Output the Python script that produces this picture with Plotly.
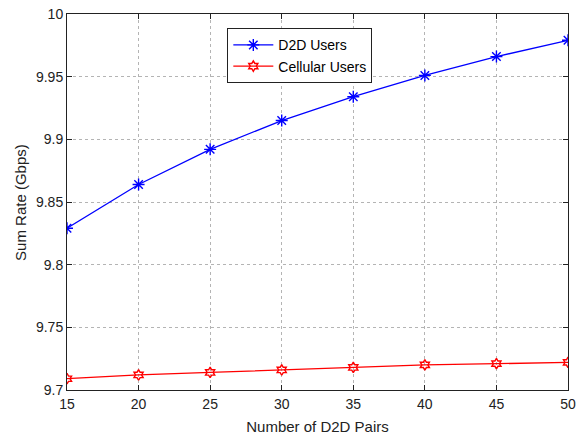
import plotly.graph_objects as go

pairs = [15, 20, 25, 30, 35, 40, 45, 50]
d2d_rate = [9.829, 9.864, 9.892, 9.915, 9.934, 9.951, 9.966, 9.979]
cell_rate = [9.709, 9.712, 9.714, 9.716, 9.718, 9.720, 9.721, 9.722]
y_ticks = [9.7, 9.75, 9.8, 9.85, 9.9, 9.95, 10]
y_tick_text = ["9.7", "9.75", "9.8", "9.85", "9.9", "9.95", "10"]

FONT = "Liberation Sans, Arial, Helvetica"

fig = go.Figure()
fig.add_trace(go.Scatter(
    x=pairs, y=d2d_rate, name="D2D Users", mode="lines+markers",
    line=dict(color="#0000ff", width=1.3),
    marker=dict(symbol="asterisk-open", size=10, color="#0000ff",
                line=dict(color="#0000ff", width=1.4)),
))
fig.add_trace(go.Scatter(
    x=pairs, y=cell_rate, name="Cellular Users", mode="lines+markers",
    line=dict(color="#ff0000", width=1.3),
    marker=dict(symbol="hexagram-open", size=8, color="#ff0000",
                line=dict(color="#ff0000", width=1.4)),
))

axis_common = dict(
    showline=True, linecolor="#222", linewidth=1, mirror="ticks",
    ticks="inside", ticklen=5, tickcolor="#222",
    showgrid=True, gridcolor="#b4b4b4", griddash="dot", gridwidth=1,
    zeroline=False, automargin=False,
    tickfont=dict(family=FONT, size=14, color="#222"),
)

fig.update_xaxes(
    range=[15, 50], tickvals=pairs, ticklabelstandoff=1, **axis_common,
    title=dict(text="Number of D2D Pairs",
               font=dict(family=FONT, size=15, color="#222")),
)
fig.update_yaxes(
    range=[9.7, 10], tickvals=y_ticks, ticktext=y_tick_text, **axis_common,
)

fig.add_annotation(
    text="Sum Rate (Gbps)", textangle=-90,
    xref="paper", yref="paper", x=-0.094, y=0.5,
    xanchor="center", yanchor="middle", showarrow=False,
    font=dict(family=FONT, size=15, color="#222"),
)

fig.update_layout(
    width=582, height=435,
    margin=dict(l=67, r=14, t=14, b=45),
    plot_bgcolor="white", paper_bgcolor="white",
    showlegend=True,
    legend=dict(
        x=0.32, y=0.962, xanchor="left", yanchor="top",
        bgcolor="white", bordercolor="#222", borderwidth=1,
        font=dict(family=FONT, size=14, color="black"),
        tracegroupgap=0, itemwidth=40,
    ),
)

fig.write_html("out.html")
